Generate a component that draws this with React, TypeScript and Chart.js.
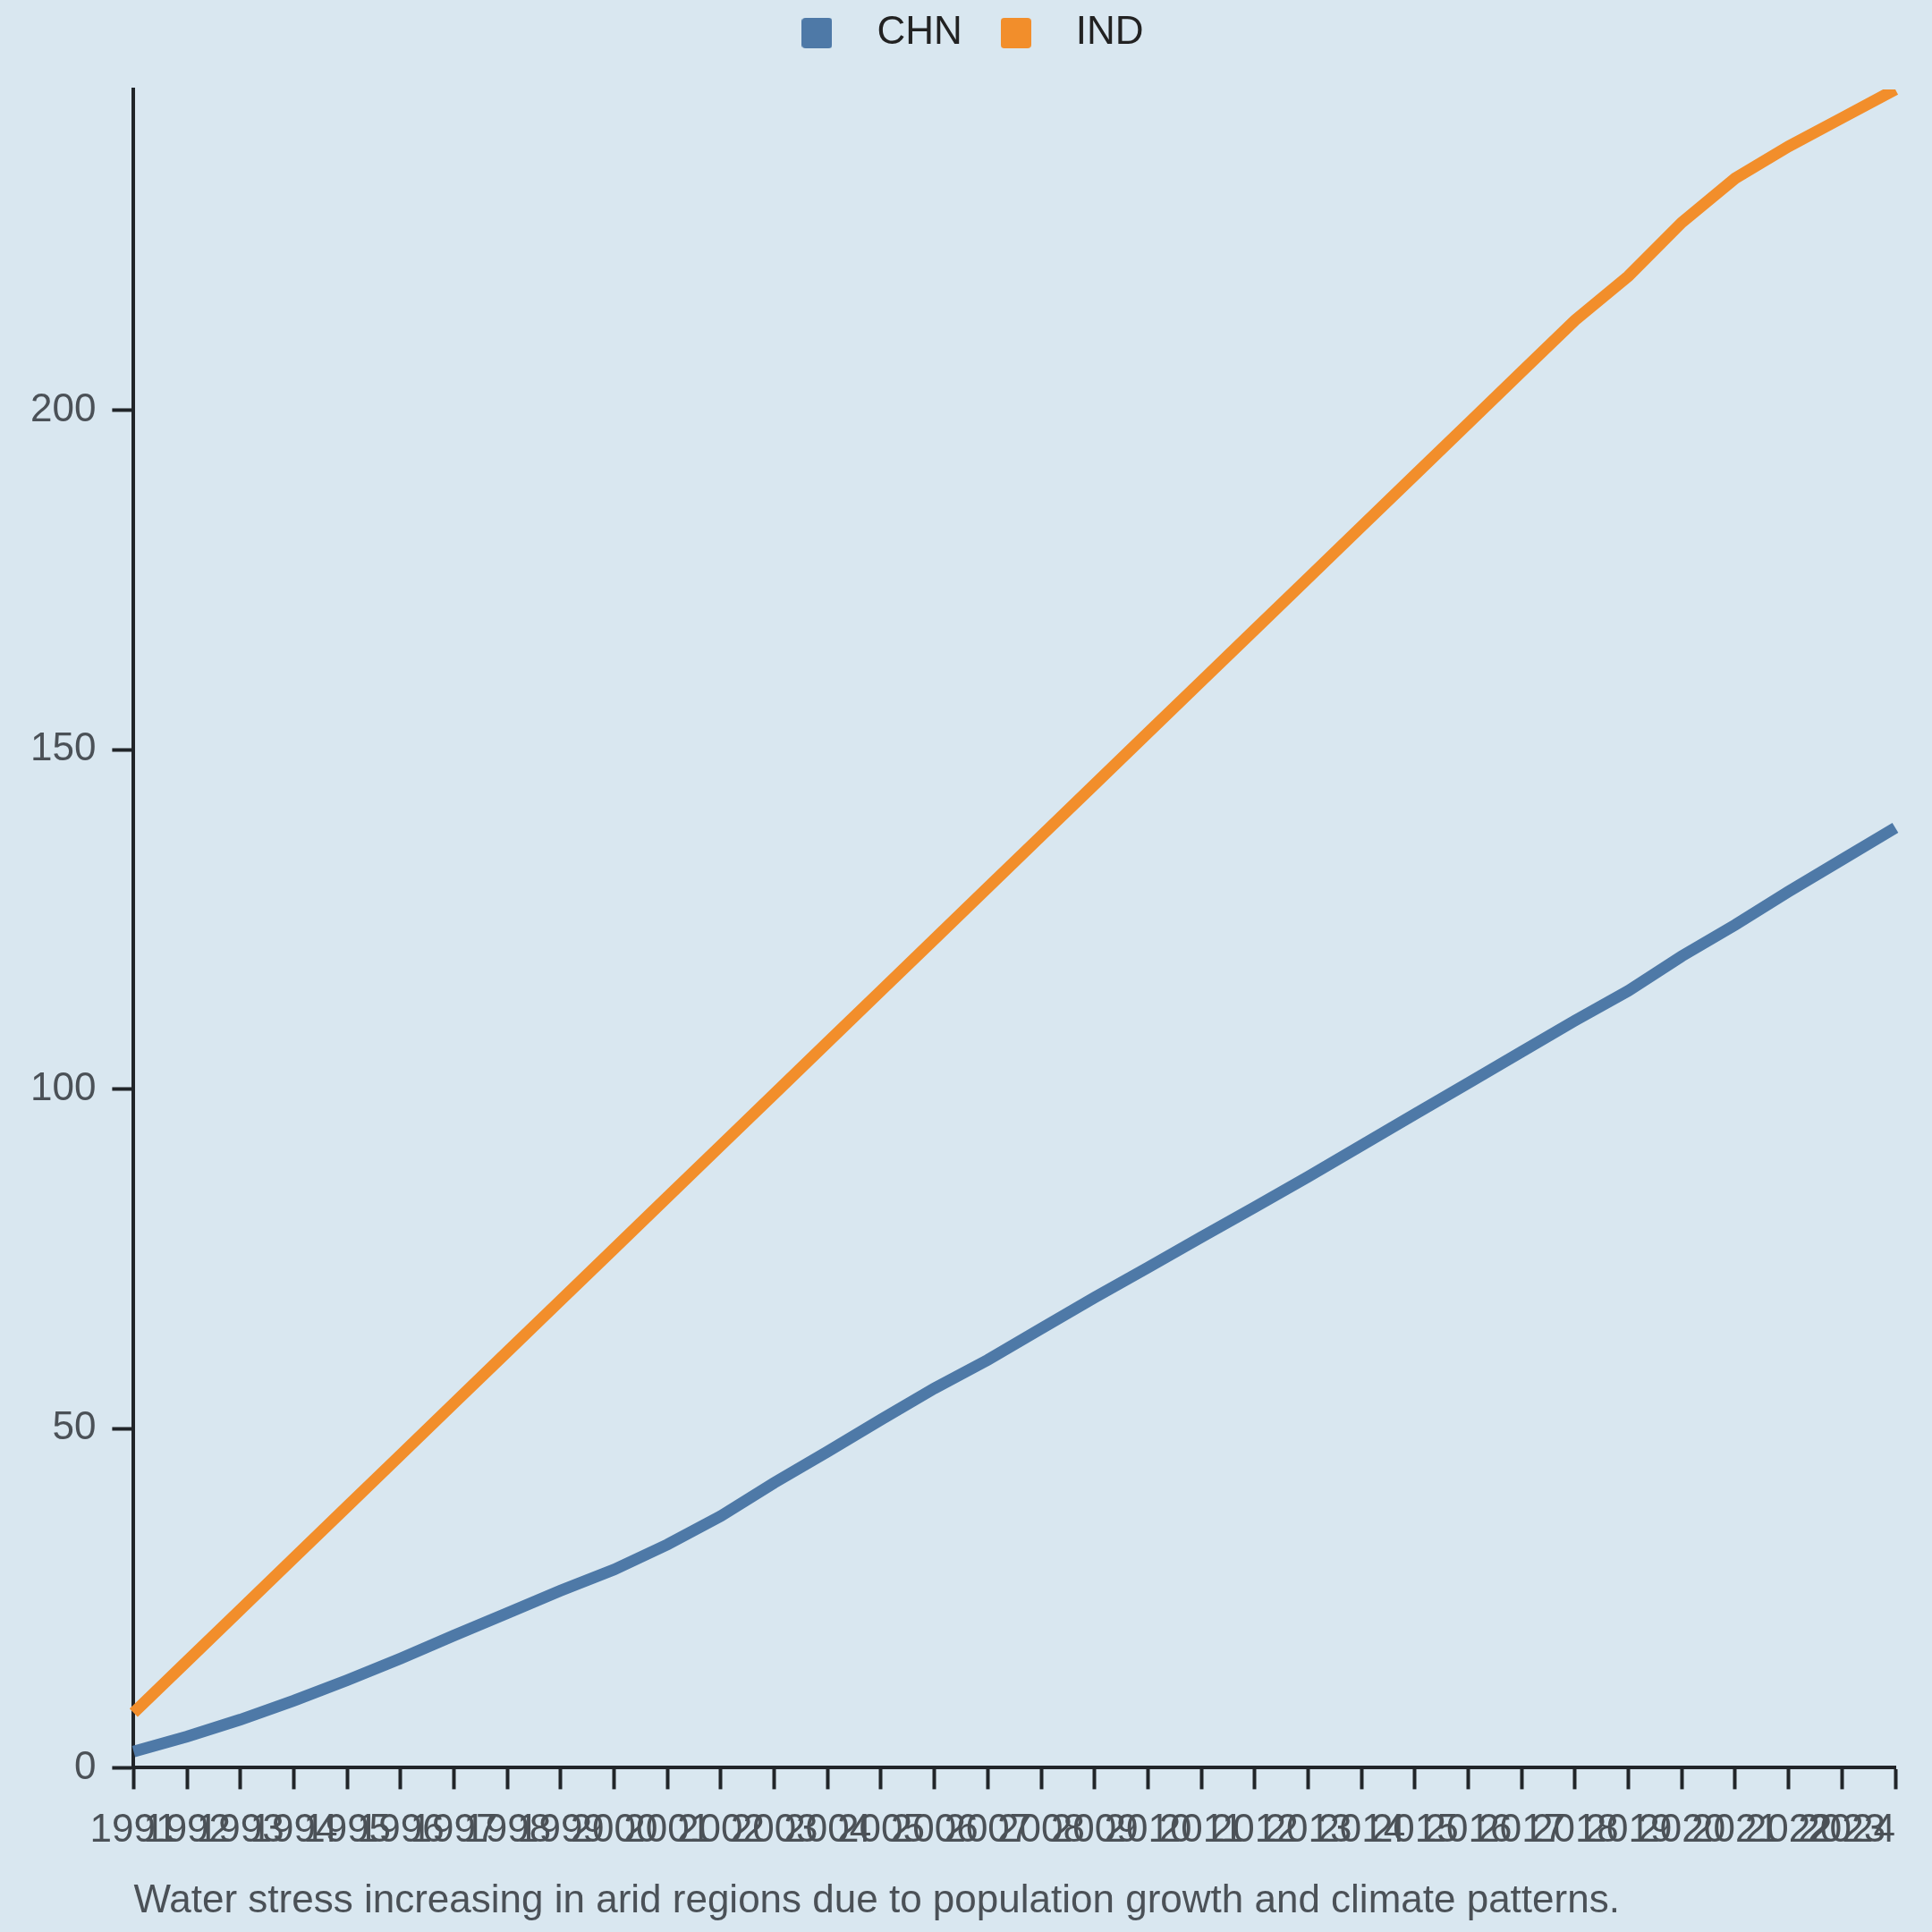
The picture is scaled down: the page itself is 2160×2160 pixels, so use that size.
import React, { useEffect, useRef } from 'react';
import { Chart, registerables } from 'chart.js';

Chart.register(...registerables);

// ---- data ----
const YEARS = [
  '1991', '1992', '1993', '1994', '1995', '1996', '1997', '1998', '1999', '2000',
  '2001', '2002', '2003', '2004', '2005', '2006', '2007', '2008', '2009', '2010',
  '2011', '2012', '2013', '2014', '2015', '2016', '2017', '2018', '2019', '2020',
  '2021', '2022', '2023', '2024',
];
const CHN = [
  2.4, 4.6, 7.1, 9.9, 12.9, 16.1, 19.5, 22.8, 26.1, 29.2,
  32.9, 37.1, 42.0, 46.6, 51.3, 55.9, 60.1, 64.7, 69.3, 73.7,
  78.2, 82.6, 87.1, 91.7, 96.3, 100.9, 105.5, 110.1, 114.5, 119.6,
  124.2, 129.1, 133.8, 138.5,
];
const IND = [
  8.1, 15.7, 23.3, 30.9, 38.5, 46.1, 53.7, 61.3, 68.9, 76.5,
  84.1, 91.7, 99.3, 106.9, 114.5, 122.1, 129.7, 137.3, 144.9, 152.5,
  160.1, 167.7, 175.3, 182.9, 190.5, 198.1, 205.7, 213.3, 219.8, 227.7,
  234.2, 238.9, 243.1, 247.3,
];
const SERIES_NAMES = ['CHN', 'IND'];
const SERIES_COLORS = ['#4e79a7', '#f28e2b'];
const Y_TICK_STEP = 50;
const CAPTION = 'Water stress increasing in arid regions due to population growth and climate patterns.';

// ---- style ----
const FONT = "'Liberation Sans', Arial, Helvetica, sans-serif";
const BG = '#d9e7f0';
const AXIS = '#212529';
const TICK_TEXT = '#4b5157';
const LEGEND_TEXT = '#222222';
const CAPTION_TEXT = '#4b5157';
const TICK_FONT = 44;
const TICK_LEN = 24;
const X_TICK_PAD = 20;
const Y_TICK_PAD = 18;

function makeSwatch(color: string): HTMLCanvasElement {
  const c = document.createElement('canvas');
  c.width = 34;
  c.height = 34;
  const g = c.getContext('2d')!;
  g.fillStyle = color;
  g.beginPath();
  if ((g as any).roundRect) (g as any).roundRect(0, 0, 34, 34, 4);
  else g.rect(0, 0, 34, 34);
  g.fill();
  return c;
}

const bgPlugin = {
  id: 'bg',
  beforeDraw(chart: any) {
    const ctx = chart.ctx;
    ctx.save();
    ctx.fillStyle = BG;
    ctx.fillRect(0, 0, chart.width, chart.height);
    ctx.restore();
  },
};

const legendGapPlugin = {
  id: 'legendGap',
  afterInit(chart: any) {
    const legend = chart.legend;
    if (!legend) return;
    const orig = legend.fit;
    legend.fit = function (this: any) {
      orig.call(this);
      this.height += 31;
    };
  },
  afterLayout(chart: any) {
    const legend = chart.legend;
    if (!legend) return;
    legend.left += 6;
    legend.right += 6;
  },
};

// last year label is right-aligned on its tick, as in the reference
const lastTickLabelPlugin = {
  id: 'lastTickLabel',
  afterDraw(chart: any) {
    const s = chart.scales.x;
    const i = YEARS.length - 1;
    const x = s.getPixelForTick(i);
    const lh = TICK_FONT * 1.2;
    const y = s.top + TICK_LEN + X_TICK_PAD + lh / 2;
    const ctx = chart.ctx;
    ctx.save();
    ctx.font = `${TICK_FONT}px ${FONT}`;
    ctx.fillStyle = TICK_TEXT;
    ctx.textAlign = 'right';
    ctx.textBaseline = 'middle';
    ctx.fillText(YEARS[i], x, y);
    ctx.restore();
  },
};

export default function App() {
  const ref = useRef<HTMLCanvasElement | null>(null);

  useEffect(() => {
    document.body.style.margin = '0';
    document.body.style.background = BG;
    if (!ref.current) return;
    const seriesData = [CHN, IND];
    const yMax = Math.max(...CHN, ...IND);
    const chart = new Chart(ref.current, {
      type: 'line',
      data: {
        labels: YEARS,
        datasets: SERIES_NAMES.map((name, k) => ({
          label: name,
          data: seriesData[k],
          borderColor: SERIES_COLORS[k],
          backgroundColor: SERIES_COLORS[k],
          borderWidth: 13,
          pointRadius: 0,
          pointHoverRadius: 0,
          pointStyle: makeSwatch(SERIES_COLORS[k]) as any,
          tension: 0,
          fill: false,
        })),
      },
      options: {
        responsive: false,
        animation: false,
        devicePixelRatio: 1,
        events: [],
        layout: { padding: { left: 16, right: 41, top: 0, bottom: 0 } },
        plugins: {
          legend: {
            display: true,
            position: 'top',
            align: 'center',
            labels: {
              usePointStyle: true,
              pointStyleWidth: 90,
              boxHeight: 34,
              padding: 15,
              color: LEGEND_TEXT,
              font: { family: FONT, size: 44 },
            },
          },
          title: {
            display: true,
            text: CAPTION,
            position: 'bottom',
            align: 'start',
            fullSize: false,
            color: CAPTION_TEXT,
            font: { family: FONT, size: 44, weight: 'normal' },
            padding: { top: 6, bottom: 8 },
          },
          tooltip: { enabled: false },
        },
        scales: {
          x: {
            type: 'category',
            offset: false,
            grid: {
              display: true,
              drawOnChartArea: false,
              drawTicks: true,
              tickLength: TICK_LEN,
              tickWidth: 4,
              tickColor: AXIS,
            },
            border: { display: true, color: AXIS, width: 4 },
            ticks: {
              autoSkip: false,
              maxRotation: 0,
              minRotation: 0,
              padding: X_TICK_PAD,
              color: TICK_TEXT,
              font: { family: FONT, size: TICK_FONT },
              callback: (_v: any, i: number) => (i === YEARS.length - 1 ? '' : YEARS[i]),
            },
          },
          y: {
            min: 0,
            max: yMax,
            grid: {
              display: true,
              drawOnChartArea: false,
              drawTicks: true,
              tickLength: TICK_LEN,
              tickWidth: 4,
              tickColor: AXIS,
            },
            border: { display: true, color: AXIS, width: 4 },
            ticks: {
              stepSize: Y_TICK_STEP,
              includeBounds: false,
              padding: Y_TICK_PAD,
              color: TICK_TEXT,
              font: { family: FONT, size: TICK_FONT },
            },
          },
        },
      } as any,
      plugins: [bgPlugin, legendGapPlugin, lastTickLabelPlugin],
    });
    return () => chart.destroy();
  }, []);

  return (
    <div style={{ width: 2160, height: 2160, background: BG }}>
      <canvas ref={ref} width={2160} height={2160} style={{ display: 'block', width: 2160, height: 2160 }} />
    </div>
  );
}
